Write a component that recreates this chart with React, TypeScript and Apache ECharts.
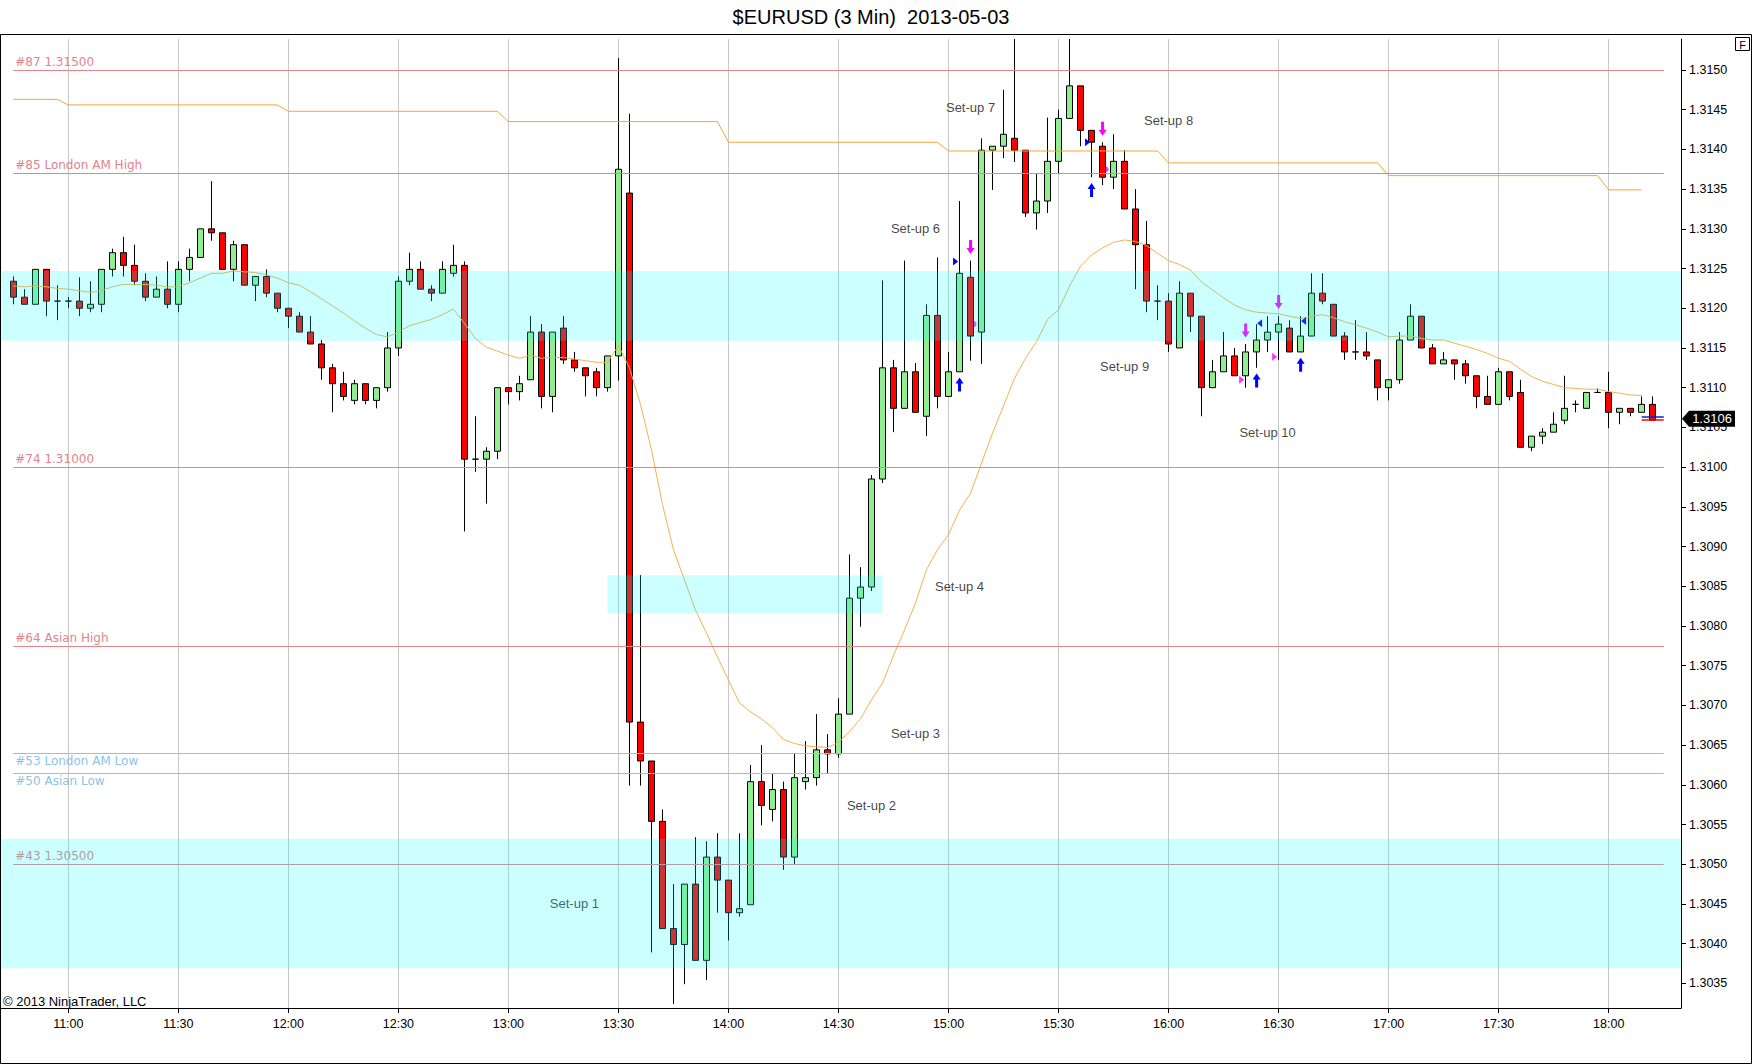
import React, { useEffect, useRef } from "react";
import * as echarts from "echarts";

// ---------- DATA ----------
const title = "$EURUSD (3 Min)  2013-05-03";
const copyright = "\u00A9 2013 NinjaTrader, LLC";
const firstBar = "10:45";
const barMinutes = 3;

// [open, close, low, high] for each 3-minute bar starting at 10:45
const candles: number[][] = [
  [1.31234, 1.31214, 1.31205, 1.3124], // 10:45
  [1.31214, 1.31205, 1.31205, 1.31224],
  [1.31205, 1.31249, 1.31205, 1.31249],
  [1.31249, 1.31209, 1.3119, 1.31249],
  [1.31209, 1.31209, 1.31185, 1.31229],
  [1.31209, 1.31209, 1.312, 1.31214], // 11:00
  [1.31209, 1.312, 1.3119, 1.31239],
  [1.312, 1.31205, 1.31195, 1.31234],
  [1.31205, 1.31249, 1.31195, 1.31249],
  [1.31249, 1.3127, 1.3124, 1.31275],
  [1.3127, 1.31254, 1.3124, 1.3129],
  [1.31254, 1.31234, 1.31229, 1.3128],
  [1.31234, 1.31214, 1.31209, 1.31244],
  [1.31214, 1.31224, 1.31214, 1.3124],
  [1.31224, 1.31205, 1.312, 1.31259],
  [1.31205, 1.31249, 1.31195, 1.31259], // 11:30
  [1.31249, 1.31264, 1.31234, 1.31275],
  [1.31264, 1.313, 1.31264, 1.313],
  [1.313, 1.31295, 1.31285, 1.3136],
  [1.31295, 1.31249, 1.31249, 1.31295],
  [1.31249, 1.3128, 1.31234, 1.31285],
  [1.3128, 1.31229, 1.31229, 1.3128],
  [1.31229, 1.3124, 1.31209, 1.3124],
  [1.3124, 1.31219, 1.31214, 1.31249],
  [1.31219, 1.312, 1.31195, 1.31219],
  [1.312, 1.3119, 1.31175, 1.312], // 12:00
  [1.3119, 1.3117, 1.3117, 1.31195],
  [1.3117, 1.31155, 1.31155, 1.3119],
  [1.31155, 1.31125, 1.3111, 1.3116],
  [1.31125, 1.31105, 1.31069, 1.3113],
  [1.31105, 1.31089, 1.31084, 1.3112],
  [1.31084, 1.31105, 1.31079, 1.3111],
  [1.31105, 1.31084, 1.31079, 1.31105],
  [1.31084, 1.311, 1.31074, 1.311],
  [1.311, 1.3115, 1.31095, 1.3117],
  [1.3115, 1.31234, 1.3114, 1.3124], // 12:30
  [1.31234, 1.31249, 1.31229, 1.3127],
  [1.31249, 1.31224, 1.31224, 1.31259],
  [1.31224, 1.31219, 1.31209, 1.31229],
  [1.31219, 1.31249, 1.31219, 1.31259],
  [1.31244, 1.31254, 1.3124, 1.3128],
  [1.31254, 1.3101, 1.30919, 1.31259],
  [1.3101, 1.3101, 1.30994, 1.31064],
  [1.3101, 1.3102, 1.30954, 1.31025],
  [1.3102, 1.311, 1.3101, 1.311],
  [1.311, 1.31095, 1.31079, 1.311], // 13:00
  [1.31095, 1.31105, 1.31084, 1.31115],
  [1.3111, 1.3117, 1.3111, 1.3119],
  [1.3117, 1.31089, 1.31074, 1.3118],
  [1.31089, 1.3117, 1.31069, 1.3117],
  [1.31175, 1.31135, 1.3113, 1.3119],
  [1.31135, 1.31125, 1.3112, 1.31145],
  [1.31125, 1.31115, 1.31089, 1.31125],
  [1.3112, 1.311, 1.31089, 1.31125],
  [1.311, 1.3114, 1.31095, 1.3114],
  [1.3114, 1.31375, 1.31109, 1.31515], // 13:30
  [1.31345, 1.30679, 1.30599, 1.31445],
  [1.30679, 1.3063, 1.30599, 1.30864],
  [1.3063, 1.30554, 1.30389, 1.3063],
  [1.30554, 1.30419, 1.30419, 1.30569],
  [1.30419, 1.30399, 1.30324, 1.30475],
  [1.30399, 1.30475, 1.30349, 1.30475],
  [1.30475, 1.30379, 1.30379, 1.30534],
  [1.30379, 1.30509, 1.30354, 1.30529],
  [1.30509, 1.3048, 1.30439, 1.30539],
  [1.3048, 1.30439, 1.30404, 1.3048], // 14:00
  [1.30439, 1.30444, 1.30434, 1.30539],
  [1.30449, 1.30604, 1.30449, 1.30625],
  [1.30604, 1.30574, 1.30549, 1.3065],
  [1.30569, 1.30594, 1.30554, 1.30614],
  [1.30594, 1.30509, 1.30493, 1.30604],
  [1.30509, 1.30609, 1.30499, 1.30639],
  [1.30604, 1.30609, 1.30594, 1.30655],
  [1.30609, 1.30644, 1.30599, 1.30689],
  [1.30644, 1.30639, 1.30614, 1.30664],
  [1.30639, 1.30689, 1.30634, 1.30709], // 14:30
  [1.30689, 1.30835, 1.30689, 1.3089],
  [1.30835, 1.30849, 1.30799, 1.30874],
  [1.30849, 1.30985, 1.30844, 1.3099],
  [1.30985, 1.31125, 1.3098, 1.31235],
  [1.31125, 1.31074, 1.31044, 1.31135],
  [1.31074, 1.3112, 1.31074, 1.3126],
  [1.3112, 1.31069, 1.31069, 1.31131],
  [1.31064, 1.31191, 1.31039, 1.31205],
  [1.31191, 1.31089, 1.31074, 1.31264],
  [1.31089, 1.3112, 1.31089, 1.31145], // 15:00
  [1.3112, 1.31244, 1.3112, 1.31335],
  [1.31239, 1.31165, 1.31134, 1.3126],
  [1.3117, 1.31399, 1.3113, 1.31414],
  [1.31399, 1.31404, 1.31349, 1.31404],
  [1.31404, 1.31419, 1.31389, 1.31475],
  [1.31414, 1.31399, 1.31384, 1.31539],
  [1.31399, 1.3132, 1.31315, 1.31399],
  [1.3132, 1.31335, 1.31299, 1.3137],
  [1.31335, 1.31385, 1.3132, 1.3144],
  [1.31385, 1.31439, 1.3137, 1.3145], // 15:30
  [1.31439, 1.3148, 1.31439, 1.31539],
  [1.3148, 1.31424, 1.31404, 1.3148],
  [1.31424, 1.31409, 1.31365, 1.31424],
  [1.31404, 1.31365, 1.31355, 1.31409],
  [1.31365, 1.31385, 1.3135, 1.31419],
  [1.31385, 1.31325, 1.31325, 1.31399],
  [1.31325, 1.3128, 1.31224, 1.3135],
  [1.3128, 1.31209, 1.31195, 1.3131],
  [1.31209, 1.31209, 1.31185, 1.31229],
  [1.31209, 1.31155, 1.31145, 1.31219], // 16:00
  [1.3115, 1.31219, 1.3115, 1.31234],
  [1.31219, 1.3119, 1.3117, 1.31219],
  [1.3119, 1.311, 1.31064, 1.3119],
  [1.311, 1.3112, 1.311, 1.31135],
  [1.3112, 1.3114, 1.3112, 1.3117],
  [1.3114, 1.31115, 1.31115, 1.3115],
  [1.31115, 1.31145, 1.311, 1.31155],
  [1.31145, 1.3116, 1.31125, 1.3118],
  [1.3116, 1.3117, 1.31145, 1.3119],
  [1.3117, 1.3118, 1.31135, 1.3119], // 16:30
  [1.31175, 1.31145, 1.31145, 1.31185],
  [1.31145, 1.31165, 1.31145, 1.3119],
  [1.31165, 1.31219, 1.31165, 1.31244],
  [1.31219, 1.31209, 1.31205, 1.31244],
  [1.31205, 1.31165, 1.31165, 1.31205],
  [1.31165, 1.31145, 1.31135, 1.3117],
  [1.31145, 1.31145, 1.31135, 1.31185],
  [1.31145, 1.3114, 1.31135, 1.3117],
  [1.31135, 1.311, 1.31084, 1.31135],
  [1.311, 1.3111, 1.31084, 1.3111], // 17:00
  [1.3111, 1.3116, 1.31105, 1.3117],
  [1.3116, 1.3119, 1.3116, 1.31205],
  [1.3119, 1.3115, 1.3115, 1.3119],
  [1.3115, 1.3113, 1.3113, 1.31155],
  [1.3113, 1.31135, 1.3113, 1.31145],
  [1.31135, 1.3113, 1.3111, 1.31135],
  [1.3113, 1.31115, 1.31105, 1.31135],
  [1.31115, 1.31089, 1.31074, 1.31115],
  [1.31089, 1.31079, 1.31079, 1.31115],
  [1.31079, 1.3112, 1.31079, 1.31125], // 17:30
  [1.3112, 1.31089, 1.31084, 1.3112],
  [1.31094, 1.31025, 1.31025, 1.3111],
  [1.31025, 1.31039, 1.3102, 1.31039],
  [1.31039, 1.31044, 1.31029, 1.31049],
  [1.31044, 1.31054, 1.31044, 1.31069],
  [1.31059, 1.31074, 1.31054, 1.31115],
  [1.31079, 1.31079, 1.31069, 1.31084],
  [1.31074, 1.31094, 1.31074, 1.31094],
  [1.31094, 1.31094, 1.31094, 1.31099],
  [1.31094, 1.31069, 1.31049, 1.3112], // 18:00
  [1.31069, 1.31074, 1.31054, 1.31074],
  [1.31074, 1.31069, 1.31064, 1.31074],
  [1.31069, 1.31079, 1.31069, 1.31089],
  [1.31079, 1.31059, 1.31059, 1.31089], // 18:12
];

// orange moving average, one value per bar from 10:45 to 18:09
const movingAverage: number[] = [
  1.31228, 1.31227, 1.31228, 1.31227, 1.31225,
  1.31224, 1.31222, 1.3122, 1.31222, 1.31227, 1.3123, 1.3123, 1.3123, 1.31229, 1.31227,
  1.31227, 1.31232, 1.31238, 1.31244, 1.31244, 1.31247, 1.31246, 1.31245, 1.31242, 1.31238,
  1.31232, 1.31229, 1.31221, 1.31212, 1.31203, 1.31194, 1.31184, 1.31175, 1.31167, 1.31164,
  1.3117, 1.31178, 1.31182, 1.31186, 1.31192, 1.31199, 1.31181, 1.31162, 1.31151, 1.31146,
  1.31141, 1.31137, 1.31141, 1.31137, 1.31138, 1.31138, 1.31136, 1.31134, 1.31132, 1.31132,
  1.31153, 1.31125, 1.31079, 1.31022, 1.30953, 1.30896, 1.30858, 1.3082, 1.30791, 1.30761,
  1.30732, 1.30703, 1.30692, 1.30683, 1.30672, 1.30657, 1.30652, 1.30649, 1.30648, 1.30647,
  1.30653, 1.30667, 1.30683, 1.30707, 1.30728, 1.30763, 1.30795, 1.30829, 1.30871, 1.30896,
  1.30915, 1.30946, 1.30967, 1.31005, 1.31043, 1.31077, 1.31112, 1.31137, 1.31158, 1.31186,
  1.31198, 1.31228, 1.31253, 1.31267, 1.31276, 1.31283, 1.31286, 1.31284, 1.31279, 1.31269,
  1.3126, 1.31255, 1.31248, 1.31233, 1.31223, 1.31213, 1.31204, 1.31198, 1.31195, 1.31194,
  1.31193, 1.3119, 1.31187, 1.3119, 1.31192, 1.31188, 1.31183, 1.31179, 1.31175, 1.3117,
  1.31164, 1.31165, 1.31165, 1.31162, 1.3116, 1.3116, 1.31156, 1.31152, 1.31148, 1.31143,
  1.31137, 1.31133, 1.31123, 1.31114, 1.31108, 1.31104, 1.311, 1.31099, 1.31098, 1.31098,
  1.31095, 1.31093, 1.31091, 1.3109,
];

// hourly stepped orange line: [time, value]
const hourlyLevel: [string, number][] = [
  ["10:45", 1.31463], ["10:57", 1.31463],
  ["11:00", 1.31456], ["11:57", 1.31456],
  ["12:00", 1.31448], ["12:57", 1.31448],
  ["13:00", 1.31435], ["13:57", 1.31435],
  ["14:00", 1.31409], ["14:57", 1.31409],
  ["15:00", 1.31398], ["15:57", 1.31398],
  ["16:00", 1.31383], ["16:57", 1.31383],
  ["17:00", 1.31367], ["17:57", 1.31367],
  ["18:00", 1.31349], ["18:09", 1.31349],
];

// horizontal price levels
const levelLabels = ["#87 1.31500", "#85 London AM High", "#74 1.31000", "#64 Asian High", "#53 London AM Low", "#50 Asian Low", "#43 1.30500"];
const levelPrices = [1.315, 1.3137, 1.31, 1.30775, 1.3064, 1.30615, 1.305];
const levelFrom = "10:45";
const levelTo = "18:15";

// cyan zones: [from, to, top, bottom]; "start"/"end" = full width
const zoneFrom = ["start", "13:27", "start"];
const zoneTo = ["end", "14:42", "end"];
const zoneTop = [1.31247, 1.30864, 1.30532];
const zoneBottom = [1.31159, 1.30816, 1.30369];

// set-up annotations
const setupNames = ["Set-up 1", "Set-up 2", "Set-up 3", "Set-up 4", "Set-up 6", "Set-up 7", "Set-up 8", "Set-up 9", "Set-up 10"];
const setupTimes = ["13:18", "14:39", "14:51", "15:03", "14:51", "15:06", "16:00", "15:48", "16:27"];
const setupPrices = [1.3045, 1.30574, 1.30664, 1.3085, 1.313, 1.31453, 1.31437, 1.31127, 1.31043];

// signal markers [time, price]
const upArrows: [string, number][] = [["15:03", 1.31104], ["15:39", 1.31349], ["16:24", 1.31109], ["16:36", 1.31129]];
const downArrows: [string, number][] = [["15:06", 1.31277], ["15:42", 1.31426], ["16:21", 1.31172], ["16:30", 1.31208]];
const blueRightMarks: [string, number][] = [["15:03", 1.31259], ["15:39", 1.31409]];
const blueLeftMarks: [string, number][] = [["16:24", 1.31181], ["16:36", 1.31184]];
const magentaRightMarks: [string, number][] = [["16:21", 1.3111], ["16:30", 1.31139]];
const magentaDots: [string, number][] = [["15:06", 1.3118], ["15:42", 1.31375]];

// last price / bid-ask markers
const lastPrice = 1.31061;
const bidAskFrom = "18:09";
const bidAskTo = "18:15";
const askPrice = 1.31064;
const bidPrice = 1.31059;

// axis ticks
const xTicks = ["11:00", "11:30", "12:00", "12:30", "13:00", "13:30", "14:00", "14:30", "15:00", "15:30", "16:00", "16:30", "17:00", "17:30", "18:00"];
const yTicks = [1.3035, 1.304, 1.3045, 1.305, 1.3055, 1.306, 1.3065, 1.307, 1.3075, 1.308, 1.3085, 1.309, 1.3095, 1.31, 1.3105, 1.311, 1.3115, 1.312, 1.3125, 1.313, 1.3135, 1.314, 1.3145, 1.315];

// ---------- LAYOUT / STYLE ----------
const X_MIN = 641.65;
const X_MAX = 1099.71;
const Y_MIN = 1.30319;
const Y_MAX = 1.31539;
const FONT = "'Liberation Sans', Arial, sans-serif";
const LEVEL_FONT = "'DejaVu Sans', Verdana, sans-serif";
const levelColors = ["#E3838B", "#E3838B", "#E3838B", "#E3838B", "#8CC3E6", "#8CC3E6", "#E3838B"];
const levelBelow = [false, false, false, false, true, true, false];

const toMin = (s: string) => {
  const [h, m] = s.split(":").map(Number);
  return h * 60 + m;
};
const fmtTime = (v: number) => {
  const h = Math.floor(v / 60);
  const m = Math.round(v - h * 60);
  return `${String(h).padStart(2, "0")}:${String(m).padStart(2, "0")}`;
};

const UP_ARROW = "path://M4,0 L8,6 L5.5,6 L5.5,14 L2.5,14 L2.5,6 L0,6 Z";
const DOWN_ARROW = "path://M2.5,0 L5.5,0 L5.5,8 L8,8 L4,14 L0,8 L2.5,8 Z";
const RIGHT_TRI = "path://M0,0 L5,3.5 L0,7 Z";
const LEFT_TRI = "path://M5,0 L0,3.5 L5,7 Z";

function buildOption() {
  const t0 = toMin(firstBar);
  const candleData = candles.map((c, i) => [t0 + i * barMinutes, c[0], c[1], c[2], c[3]]);
  const maData = movingAverage.map((v, i) => [t0 + i * barMinutes, v]);
  const stepData = hourlyLevel.map(([t, v]) => [toMin(t), v]);
  const xTickVals = xTicks.map(toMin);

  const levelLines: any[] = levelLabels.map((name, i) => [
    {
      name,
      coord: [toMin(levelFrom), levelPrices[i]],
      lineStyle: { color: levelColors[i], width: 1, type: "solid" },
      label: {
        show: true,
        formatter: "{b}",
        position: levelBelow[i] ? "insideStartBottom" : "insideStartTop",
        color: levelColors[i],
        fontSize: 12,
        fontFamily: LEVEL_FONT,
        distance: [2, 2],
      },
    },
    { coord: [toMin(levelTo), levelPrices[i]] },
  ]);
  const bidAskLines: any[] = [
    [
      { coord: [toMin(bidAskFrom), askPrice], lineStyle: { color: "#1020C0", width: 1.5, type: "solid" }, label: { show: false } },
      { coord: [toMin(bidAskTo), askPrice] },
    ],
    [
      { coord: [toMin(bidAskFrom), bidPrice], lineStyle: { color: "#E01010", width: 1.5, type: "solid" }, label: { show: false } },
      { coord: [toMin(bidAskTo), bidPrice] },
    ],
  ];

  const zoneData = zoneTop.map((top, i) => [
    zoneFrom[i] === "start" ? X_MIN : toMin(zoneFrom[i]),
    zoneTo[i] === "end" ? X_MAX : toMin(zoneTo[i]),
    top,
    zoneBottom[i],
  ]);

  const markerSeries = (data: [string, number][], symbol: string, color: string, size: number[], offset: number[], z: number) => ({
    type: "scatter",
    data: data.map(([t, p]) => [toMin(t), p]),
    symbol,
    symbolSize: size,
    symbolOffset: offset,
    itemStyle: { color, opacity: 1 },
    silent: true,
    z,
  });

  return {
    animation: false,
    backgroundColor: "#ffffff",
    textStyle: { fontFamily: FONT },
    grid: { left: 1, right: 71, top: 39, bottom: 56, containLabel: false, outerBoundsMode: "none" },
    xAxis: {
      type: "value",
      min: X_MIN,
      max: X_MAX,
      axisLine: { show: true, onZero: false, lineStyle: { color: "#000", width: 1 } },
      axisTick: { show: true, inside: false, length: 5, customValues: xTickVals, lineStyle: { color: "#000", width: 1 } },
      axisLabel: { show: true, customValues: xTickVals, formatter: (v: number) => fmtTime(v), color: "#000", fontSize: 12.5, fontFamily: FONT, margin: 9 },
      splitLine: { show: true, lineStyle: { color: "#C8C8C8", width: 1 } },
    },
    yAxis: {
      type: "value",
      position: "right",
      min: Y_MIN,
      max: Y_MAX,
      axisLine: { show: true, onZero: false, lineStyle: { color: "#000", width: 1 } },
      axisTick: { show: true, inside: false, length: 5, customValues: yTicks, lineStyle: { color: "#000", width: 1 } },
      axisLabel: { show: true, customValues: yTicks, formatter: (v: number) => v.toFixed(4), color: "#000", fontSize: 12.5, fontFamily: FONT, margin: 8 },
      splitLine: { show: false },
    },
    series: [
      {
        type: "candlestick",
        data: candleData,
        barWidth: 7,
        z: 2,
        silent: true,
        itemStyle: {
          color: "#90EE90",
          color0: "#FF0000",
          borderColor: "#000",
          borderColor0: "#000",
          borderColorDoji: "#000",
          borderWidth: 1,
        },
      },
      {
        type: "line",
        data: stepData,
        symbol: "none",
        silent: true,
        z: 3,
        lineStyle: { color: "#F2A53C", width: 1 },
        markLine: { symbol: ["none", "none"], silent: true, animation: false, data: levelLines },
      },
      {
        type: "line",
        data: maData,
        symbol: "none",
        silent: true,
        z: 3,
        lineStyle: { color: "#F3B14E", width: 1 },
        markLine: { symbol: ["none", "none"], silent: true, animation: false, data: bidAskLines },
      },
      markerSeries(magentaDots, "circle", "#FF33FF", [6, 6], [3, 0], 1),
      markerSeries(upArrows, UP_ARROW, "#0000FF", [8, 14], [0, 0], 5),
      markerSeries(downArrows, DOWN_ARROW, "#FF00FF", [8, 14], [0, 0], 5),
      markerSeries(blueRightMarks, RIGHT_TRI, "#0000FF", [5, 8], [-4, 0], 5),
      markerSeries(blueLeftMarks, LEFT_TRI, "#0000FF", [5, 8], [3, 0], 5),
      markerSeries(magentaRightMarks, RIGHT_TRI, "#FF33FF", [5, 8], [-4, 0], 5),
      {
        type: "scatter",
        data: setupNames.map((name, i) => ({ name, value: [toMin(setupTimes[i]), setupPrices[i]] })),
        symbol: "circle",
        symbolSize: 1,
        itemStyle: { color: "rgba(0,0,0,0)" },
        silent: true,
        z: 6,
        label: { show: true, position: "inside", formatter: "{b}", color: "#111", fontSize: 13, fontFamily: FONT },
      },
      {
        type: "custom",
        data: zoneData,
        silent: true,
        z: 10,
        encode: { x: [0, 1], y: [2, 3] },
        renderItem: (params: any, api: any) => {
          const p1 = api.coord([api.value(0), api.value(2)]);
          const p2 = api.coord([api.value(1), api.value(3)]);
          const cs = params.coordSys;
          const shape = echarts.graphic.clipRectByRect(
            { x: p1[0], y: p1[1], width: p2[0] - p1[0], height: p2[1] - p1[1] },
            { x: cs.x, y: cs.y, width: cs.width, height: cs.height }
          );
          if (!shape) return null;
          return { type: "rect", shape, style: { fill: "rgba(0,255,255,0.2)" } };
        },
      },
      {
        type: "custom",
        data: [[X_MAX, lastPrice]],
        silent: true,
        clip: false,
        z: 12,
        renderItem: (params: any, api: any) => {
          const p = api.coord([api.value(0), api.value(1)]);
          const x = p[0] + 1;
          const y = p[1];
          return {
            type: "group",
            children: [
              {
                type: "polygon",
                shape: { points: [[x, y], [x + 7, y - 8], [x + 53, y - 8], [x + 53, y + 8], [x + 7, y + 8]] },
                style: { fill: "#000" },
              },
              {
                type: "text",
                x: x + 30,
                y: y,
                style: { text: (api.value(1) as number).toFixed(4), fill: "#fff", fontSize: 13, fontFamily: FONT, align: "center", verticalAlign: "middle" },
              },
            ],
          };
        },
      },
    ],
    graphic: [
      {
        type: "rect",
        silent: true,
        z: 100,
        shape: { x: 0.5, y: 34.5, width: 1751, height: 1029 },
        style: { fill: "none", stroke: "#000", lineWidth: 1 },
      },
      {
        type: "text",
        silent: true,
        x: 871,
        y: 17,
        style: { text: title, fill: "#000", fontSize: 20, fontFamily: FONT, align: "center", verticalAlign: "middle" },
      },
      {
        type: "text",
        silent: true,
        x: 3,
        y: 1001,
        style: { text: copyright, fill: "#000", fontSize: 13, fontFamily: FONT, align: "left", verticalAlign: "middle" },
      },
      {
        type: "rect",
        silent: true,
        z: 100,
        shape: { x: 1735.5, y: 37.5, width: 14, height: 13 },
        style: { fill: "#fff", stroke: "#000", lineWidth: 1 },
      },
      {
        type: "text",
        silent: true,
        z: 101,
        x: 1742.5,
        y: 44.5,
        style: { text: "F", fill: "#000", fontSize: 11, fontFamily: FONT, align: "center", verticalAlign: "middle" },
      },
    ],
  };
}

export default function App() {
  const ref = useRef<HTMLDivElement>(null);
  useEffect(() => {
    if (!ref.current) return;
    const chart = echarts.init(ref.current, null, { renderer: "svg" });
    chart.setOption(buildOption() as any);
    return () => chart.dispose();
  }, []);
  return (
    <div
      ref={ref}
      style={{ position: "fixed", left: 0, top: 0, width: 1752, height: 1064, background: "#fff" }}
    />
  );
}
